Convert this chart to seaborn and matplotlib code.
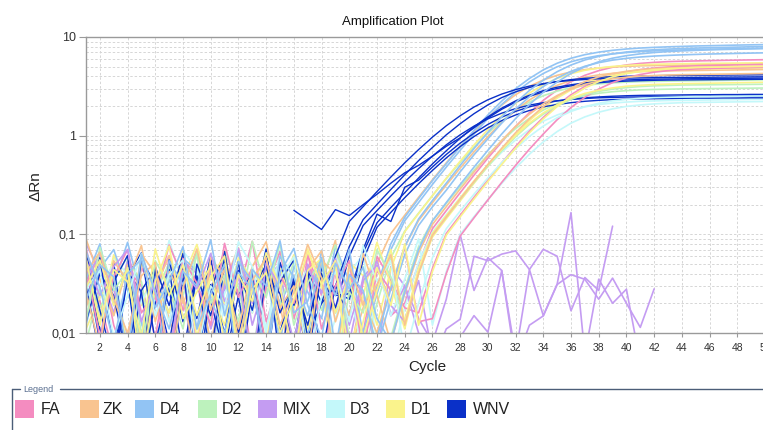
import numpy as np
import pandas as pd
import matplotlib
matplotlib.use("Agg")
import matplotlib.pyplot as plt
import seaborn as sns
from matplotlib.patches import Rectangle
from matplotlib.lines import Line2D
from matplotlib.ticker import LogLocator, NullFormatter

nan = float("nan")

cycles = list(range(1, 51))

group_names = ["FA", "ZK", "D4", "D2", "MIX", "D3", "D1", "WNV"]
group_colors = ["#F48CC0", "#F9C490", "#92C4F4", "#BDF2BD", "#C49CF2", "#C4F8FA", "#FAF38C", "#0A30C8"]

y_tick_values = [0.01, 0.1, 1, 10]
y_tick_labels = ["0,01", "0,1", "1", "10"]
x_tick_values = list(range(2, 51, 2))

FA = [
    [.072, .021, .006, .044, .030, .009, .058, .017, .038, .004, .049, .026, .085, .013, .035, .007, .062, .024, .041, .005, .033, .055, .015,
     .020, .050, .114, .174, .264, .398, .592, .864, 1.24, 1.71, 2.28, 2.9, 3.52, 4.09, 4.56, 4.94, 5.21, 5.40, 5.53, 5.63, 5.68, 5.72, 5.76, 5.80, 5.83, 5.86, 5.89],
    [.031, .064, .012, .005, .047, .022, .078, .036, .008, .053, .019, .042, .006, .029, .067, .014, .040, .003, .051, .025, .010, .060, .034, .018,
     .016, .045, .102, .156, .237, .357, .530, .775, 1.11, 1.53, 2.04, 2.6, 3.16, 3.67, 4.09, 4.43, 4.67, 4.84, 4.96, 5.04, 5.10, 5.14, 5.18, 5.21, 5.24, 5.27],
    [.048, .009, .037, .070, .016, .026, .004, .057, .032, .012, .081, .023, .046, .007, .039, .020, .066, .011, .030, .054, .006, .043, .027, .074, .013,
     .014, .040, .096, .147, .223, .336, .50, .73, 1.04, 1.45, 1.93, 2.45, 2.97, 3.45, 3.86, 4.17, 4.40, 4.56, 4.67, 4.75, 4.80, 4.84, 4.87, 4.90, 4.93],
]

ZK = [
    [.018, .052, .028, .008, .063, .040, .014, .005, .045, .027, .069, .010, .036, .056, .019, .004, .048, .031, .087,
     .006, .018, .050, .102, .156, .237, .357, .530, .775, 1.11, 1.53, 2.04, 2.60, 3.16, 3.67, 4.09, 4.43, 4.67, 4.84, 4.96, 5.04, 5.10, 5.13, 5.16, 5.18, 5.21, 5.24, 5.27, 5.30, 5.33, 5.35],
    [.090, .035, .015, .049, .006, .028, .061, .020, .041, .008, .033, .073, .016, .052, .025, .005, .044, .068, .013, .037, .021,
     .010, .030, .075, .138, .209, .316, .469, .685, .98, 1.36, 1.81, 2.30, 2.79, 3.24, 3.62, 3.91, 4.13, 4.28, 4.39, 4.46, 4.51, 4.54, 4.56, 4.58, 4.60, 4.62, 4.64, 4.66, 4.68],
    [.026, .007, .054, .033, .077, .013, .042, .023, .005, .059, .036, .011, .047, .084, .018, .030, .006, .055, .039, .015, .064, .024,
     .008, .025, .065, .126, .191, .288, .428, .626, .895, 1.24, 1.65, 2.10, 2.55, 2.96, 3.31, 3.57, 3.77, 3.91, 4.01, 4.07, 4.12, 4.15, 4.17, 4.19, 4.21, 4.23, 4.25, 4.27],
    [.041, .066, .022, .010, .038, .052, .004, .029, .071, .017, .045, .008, .034, .058, .012, .026, .079, .036, .005, .049, .019, .031, .062,
     .012, .040, .098, .15, .228, .343, .51, .745, 1.07, 1.48, 1.97, 2.5, 3.04, 3.53, 3.94, 4.26, 4.49, 4.66, 4.77, 4.85, 4.90, 4.94, 4.97, 5.0, 5.02, 5.04, 5.06],
]

D4 = [
    [.058, .014, .031, .083, .024, .006, .047, .035, .011, .062, .028, .043, .004, .053, .020, .038, .009, .069, .016, .032,
     .008, .025, .070, .137, .21, .32, .48, .71, 1.04, 1.49, 2.07, 2.75, 3.50, 4.27, 4.99, 5.61, 6.10, 6.47, 6.75, 6.96, 7.12, 7.23, 7.32, 7.40, 7.47, 7.52, 7.57, 7.63, 7.67, 7.71],
    [.012, .045, .070, .027, .009, .036, .016, .057, .043, .005, .030, .065, .021, .039, .008, .048, .026, .014, .076, .033,
     .010, .030, .080, .149, .23, .35, .52, .77, 1.13, 1.62, 2.24, 2.99, 3.80, 4.64, 5.42, 6.09, 6.62, 7.02, 7.33, 7.56, 7.73, 7.85, 7.95, 8.03, 8.11, 8.16, 8.22, 8.28, 8.33, 8.37],
    [.035, .080, .019, .046, .013, .003, .054, .031, .067, .022, .010, .041, .028, .006, .060, .037, .015, .049, .024, .071, .009,
     .009, .028, .075, .143, .22, .33, .50, .74, 1.08, 1.55, 2.16, 2.87, 3.65, 4.45, 5.20, 5.85, 6.36, 6.75, 7.04, 7.26, 7.43, 7.54, 7.64, 7.72, 7.79, 7.84, 7.90, 7.96, 8.0],
    [.067, .029, .008, .040, .056, .018, .033, .075, .011, .025, .050, .004, .044, .030, .086, .016, .021, .058, .007, .039, .027,
     .007, .022, .062, .123, .19, .28, .43, .64, .93, 1.34, 1.86, 2.48, 3.15, 3.84, 4.49, 5.05, 5.49, 5.83, 6.08, 6.27, 6.41, 6.51, 6.59, 6.66, 6.72, 6.77, 6.82, 6.87, 6.91],
    [.022, .049, .037, .006, .063, .026, .011, .042, .030, .088, .015, .053, .033, .005, .041, .072, .019, .009, .051, .028, .046, .014,
     .008, .026, .070, .137, .21, .32, .48, .71, 1.04, 1.49, 2.07, 2.75, 3.50, 4.27, 4.99, 5.61, 6.10, 6.47, 6.75, 6.96, 7.12, 7.23, 7.32, 7.40, 7.47, 7.52, 7.57, 7.63],
]

D2 = [
    [.008, .028, .015, .055, .033, .005, .041, .024, .062, .007, .035, .013, .085, .026, .049, .004, .038, .017, .058, .009,
     .006, .020, .058, .108, .164, .247, .367, .536, .767, 1.06, 1.41, 1.80, 2.19, 2.54, 2.83, 3.06, 3.23, 3.35, 3.43, 3.49, 3.53, 3.55, 3.57, 3.59, 3.60, 3.62, 3.63, 3.65, 3.66, 3.68],
    [.045, .018, .034, .060, .010, .025, .051, .003, .040, .014, .067, .029, .006, .042, .019, .053, .008, .036, .078, .022, .047, .005,
     .009, .028, .075, .137, .206, .306, .447, .639, .885, 1.18, 1.50, 1.82, 2.12, 2.36, 2.55, 2.69, 2.79, 2.86, 2.91, 2.94, 2.96, 2.98, 2.99, 3.0, 3.01, 3.02, 3.03, 3.04],
    [.013, .074, .027, .043, .006, .054, .030, .011, .066, .020, .039, .007, .046, .023, .081, .012, .032, .057, .004, .026, .016, .070, .037,
     .013, .042, .099, .150, .226, .337, .492, .703, .974, 1.30, 1.65, 2.0, 2.33, 2.60, 2.81, 2.96, 3.07, 3.15, 3.20, 3.23, 3.26, 3.27, 3.28, 3.29, 3.30, 3.31, 3.32],
]

MIX = [
    [.080, .042, .016, .053, .007, .031, .060, .022, .005, .045, .027, .068, .012, .036, .050, .004, .033, .058, .018, .040, .025, .006, .047, .030, .014, .008,
     .022, .100, .027, .058, .043, .006, .044, .015, .031, .039, .035, .022, .036, .020, .0114, .028,
     nan, nan, nan, nan, nan, nan, nan, nan],
    [.036, .062, .028, .009, .049, .033, .004, .054, .040, .011, .029, .072, .020, .045, .031, .006, .050, .025, .042, .008, .037, .053, .015, .030, .010, .005,
     .011, .0138, .060, .054, .063, .068, .044, .0705, .060, .0168, .0365, .027, .121,
     nan, nan, nan, nan, nan, nan, nan, nan, nan, nan, nan],
    [.055, .024, .047, .070, .013, .035, .006, .043, .028, .064, .021, .038, .005, .051, .030, .008, .045, .026, .057, .012, .034, .049, .019, .013, .034, .006,
     .004, .009, .015, .0102, .043, .005, .012, .0149, .0313, .166, .006, .0351, .020, .0278, .005,
     nan, nan, nan, nan, nan, nan, nan, nan, nan],
]

D3 = [
    [.034, .009, .058, .039, .012, .022, .087, .031, .048, .004, .019, .056, .036, .010, .069, .027, .045, .005, .014, .040, .063, .008,
     .005, .018, .052, .105, .158, .235, .343, .49, .679, .904, 1.15, 1.40, 1.62, 1.81, 1.96, 2.07, 2.14, 2.19, 2.23, 2.25, 2.27, 2.28, 2.29, 2.30, 2.31, 2.32, 2.33, 2.34],
    [.016, .030, .050, .007, .021, .037, .013, .068, .044, .005, .025, .052, .016, .073, .033, .008, .041, .020, .061, .028, .006, .049, .015, .035, .090,
     .012, .042, .100, .151, .224, .328, .469, .649, .865, 1.10, 1.34, 1.55, 1.73, 1.87, 1.98, 2.05, 2.10, 2.13, 2.16, 2.17, 2.18, 2.19, 2.20, 2.21, 2.22],
    [.028, .043, .009, .024, .064, .015, .039, .055, .006, .030, .018, .084, .047, .011, .036, .059, .005, .023, .042, .013, .077, .033, .054,
     .006, .020, .058, .114, .172, .255, .373, .533, .738, .983, 1.25, 1.52, 1.76, 1.97, 2.13, 2.25, 2.33, 2.39, 2.43, 2.45, 2.47, 2.48, 2.49, 2.50, 2.51, 2.52, 2.53],
]

D1 = [
    [.040, .014, .062, .031, .019, .049, .005, .036, .079, .026, .012, .058, .034, .008, .045, .017, .071, .029, .004, .052, .038,
     .012, .045, .106, .162, .246, .370, .551, .805, 1.15, 1.59, 2.12, 2.70, 3.28, 3.81, 4.25, 4.60, 4.85, 5.03, 5.15, 5.24, 5.29, 5.33, 5.36, 5.38, 5.40, 5.42, 5.44, 5.46, 5.48],
    [.011, .023, .037, .007, .050, .032, .016, .069, .009, .038, .020, .053, .004, .043, .028, .062, .011, .035, .047, .006, .024, .083, .031,
     .011, .040, .094, .144, .218, .329, .49, .715, 1.02, 1.42, 1.89, 2.4, 2.91, 3.38, 3.78, 4.08, 4.31, 4.47, 4.58, 4.66, 4.70, 4.74, 4.77, 4.80, 4.82, 4.84, 4.86],
    [.029, .055, .019, .046, .004, .033, .076, .014, .026, .048, .008, .039, .021, .065, .030, .005, .043, .057, .016, .036, .009, .027, .070,
     .013, .045, .102, .155, .233, .347, .507, .724, 1.00, 1.34, 1.70, 2.06, 2.40, 2.68, 2.89, 3.05, 3.17, 3.24, 3.30, 3.33, 3.36, 3.38, 3.40, 3.42, 3.44, 3.46, 3.48],
    [.057, .012, .044, .033, .009, .071, .024, .049, .015, .037, .060, .006, .028, .041, .010, .022, .067, .031, .054, .003, .013, .046, .019, .080,
     .012, .042, .098, .15, .228, .343, .51, .745, 1.07, 1.48, 1.97, 2.5, 3.04, 3.53, 3.94, 4.26, 4.49, 4.66, 4.77, 4.85, 4.90, 4.94, 4.97, 5.0, 5.02, 5.04],
]

WNV = [
    [.030, .006, .052, .004, .027, .045, .003, .036, .014, .060, .005, .024, .041, .007, .033, .055, .009, .020,
     .030, .075, .141, .201, .285, .401, .558, .759, 1.02, 1.32, 1.67, 2.05, 2.43, 2.78, 3.08, 3.34, 3.54, 3.70, 3.81, 3.90, 3.96, 4.00, 4.03, 4.05, 4.07, 4.08, 4.09, 4.10, 4.11, 4.12, 4.13, 4.14],
    [.046, .011, .004, .038, .065, .008, .029, .003, .050, .021, .006, .043, .017, .071, .005, .034, .012, .048, .026,
     .022, .065, .131, .187, .264, .372, .517, .703, .942, 1.23, 1.55, 1.90, 2.25, 2.57, 2.86, 3.10, 3.28, 3.43, 3.53, 3.61, 3.67, 3.71, 3.74, 3.75, 3.77, 3.78, 3.79, 3.80, 3.81, 3.82, 3.83],
    [.022, .058, .007, .035, .003, .047, .019, .064, .005, .031, .010, .053, .004, .039, .025, .008, .044,
     .020, .060, .135, .191, .271, .381, .530, .722, .967, 1.26, 1.59, 1.95, 2.31, 2.64, 2.93, 3.18, 3.37, 3.52, 3.63, 3.71, 3.77, 3.81, 3.83, 3.85, 3.87, 3.88, 3.89, 3.90, 3.91, 3.92, 3.93, 3.94, 3.95],
    [.064, .017, .005, .042, .026, .003, .055, .013, .037, .006, .049, .023, .004, .061, .016, .032, .007, .040,
     .018, .060, .123, .174, .245, .340, .463, .620, .808, 1.02, 1.25, 1.48, 1.69, 1.88, 2.04, 2.16, 2.26, 2.33, 2.38, 2.42, 2.44, 2.46, 2.47, 2.48, 2.49, 2.50, 2.50, 2.51, 2.51, 2.52, 2.52, 2.53],
    [.013, .040, .024, .005, .056, .031, .008, .046, .003, .027, .067, .010, .035, .004, .052, .019, .043, .006, .030,
     .015, .055, .118, .167, .235, .326, .444, .595, .775, .979, 1.20, 1.42, 1.62, 1.80, 1.96, 2.07, 2.16, 2.23, 2.28, 2.32, 2.34, 2.36, 2.37, 2.38, 2.39, 2.40, 2.40, 2.41, 2.41, 2.42, 2.42],
    [.052, .008, .033, .061, .004, .020, .044, .006, .038, .015, .057, .003, .028, .049, .010, .036, .005, .046, .024,
     .025, .070, .160, .135, .300, .354, .481, .645, .840, 1.06, 1.30, 1.54, 1.76, 1.96, 2.12, 2.25, 2.35, 2.42, 2.47, 2.51, 2.54, 2.56, 2.57, 2.58, 2.59, 2.60, 2.60, 2.61, 2.61, 2.62, 2.62],
    [nan, nan, nan, nan, nan, nan, nan, nan, nan, nan, nan, nan, nan, nan, nan,
     .175, .140, .112, .178, .155, .200, .255, .330, .420, .500, .620, .780, .950, 1.20, 1.51, 1.85, 2.19, 2.50, 2.78, 3.01, 3.20, 3.34, 3.44, 3.52, 3.57, 3.61, 3.64, 3.66, 3.67, 3.68, 3.69, 3.70, 3.71, 3.72, 3.73],
]

groups = [FA, ZK, D4, D2, MIX, D3, D1, WNV]
for g in groups:
    for c in g:
        assert len(c) == 50, len(c)

sns.set_style("white")
plt.rcParams["font.family"] = ["Liberation Sans", "DejaVu Sans"]

W, H = 763, 430
fig = plt.figure(figsize=(W / 100, H / 100), dpi=100)
ax = fig.add_axes([86 / W, 1 - 333 / H, (765 - 86) / W, (333 - 37) / H])
ax.set_yscale("log")
ax.set_xlim(1, 50)
ax.set_ylim(0.01, 10)

wnv_color = group_colors[group_names.index("WNV")]
others = [(n, c, g) for n, c, g in zip(group_names, group_colors, groups) if n != "WNV"]
max_n = max(len(g) for _, _, g in others)


def draw_round(i):
    for name, col, g in others:
        if i < len(g):
            sns.lineplot(x=cycles, y=g[i], color=col, lw=1.2, ax=ax,
                         legend=False, estimator=None, sort=False)


# a couple of wells of each group, then WNV, then the remaining wells
draw_round(0)
draw_round(1)
for vals in WNV:
    sns.lineplot(x=cycles, y=vals, color=wnv_color, lw=1.0, ax=ax,
                 legend=False, estimator=None, sort=False)
for i in range(2, max_n):
    draw_round(i)

ax.set_xlim(1, 50)
ax.set_ylim(0.01, 10)
ax.set_xticks(x_tick_values)
ax.set_xticklabels([str(v) for v in x_tick_values])
ax.set_yticks(y_tick_values)
ax.set_yticklabels(y_tick_labels)
ax.yaxis.set_minor_locator(LogLocator(base=10, subs=np.arange(2, 10)))
ax.yaxis.set_minor_formatter(NullFormatter())
ax.set_xlabel("")
ax.set_ylabel("")

ax.set_axisbelow(True)
grid_kw = dict(color="#d6d6d6", lw=0.7, ls=(0, (2.5, 2)))
ax.grid(True, which="major", axis="x", **grid_kw)
ax.grid(True, which="both", axis="y", **grid_kw)

for side in ["left", "bottom", "top"]:
    ax.spines[side].set_color("#9a9a9a")
    ax.spines[side].set_linewidth(1.0)
ax.spines["right"].set_visible(False)

ax.tick_params(axis="y", which="major", length=5, width=0.8, color="#9a9a9a",
               labelsize=9, labelcolor="#333333", pad=2, left=True)
ax.tick_params(axis="y", which="minor", length=0)
ax.tick_params(axis="x", which="major", length=3, width=0.8, color="#9a9a9a",
               labelsize=7.5, labelcolor="#333333", pad=4, bottom=True)

fig.text(393 / W, 1 - 22 / H, "Amplification Plot", ha="center", va="center",
         fontsize=9.5, color="#111111")
fig.text(36 / W, 1 - 186 / H, "ΔRn", ha="center", va="center", rotation=90,
         fontsize=11, color="#222222", family=["Liberation Sans", "DejaVu Sans"])
fig.text(427 / W, 1 - 367 / H, "Cycle", ha="center", va="center",
         fontsize=11, color="#222222")

# Legend box
frame_col = "#4b5d78"
fig.add_artist(Line2D([12 / W, 12 / W], [1 - 389 / H, 0], transform=fig.transFigure,
                      color=frame_col, lw=1.0))
fig.add_artist(Line2D([12 / W, 20 / W], [1 - 389 / H, 1 - 389 / H], transform=fig.transFigure,
                      color=frame_col, lw=1.0))
fig.add_artist(Line2D([60 / W, 1.0], [1 - 389 / H, 1 - 389 / H], transform=fig.transFigure,
                      color=frame_col, lw=1.0))
fig.text(23 / W, 1 - 389 / H, "Legend", ha="left", va="center", fontsize=6.5, color="#5a6f90")

sq_x = [15, 80, 135, 198, 258, 326, 386, 447]
tx_x = [41, 103, 160, 222, 283, 350, 411, 473]
for name, col, sx, tx in zip(group_names, group_colors, sq_x, tx_x):
    fig.add_artist(Rectangle((sx / W, 1 - 418 / H), 19 / W, 18 / H, transform=fig.transFigure,
                             facecolor=col, edgecolor="none"))
    fig.text(tx / W, 1 - 410 / H, name, ha="left", va="center", fontsize=11.5, color="#222222")

fig.savefig("out.png", dpi=100)
